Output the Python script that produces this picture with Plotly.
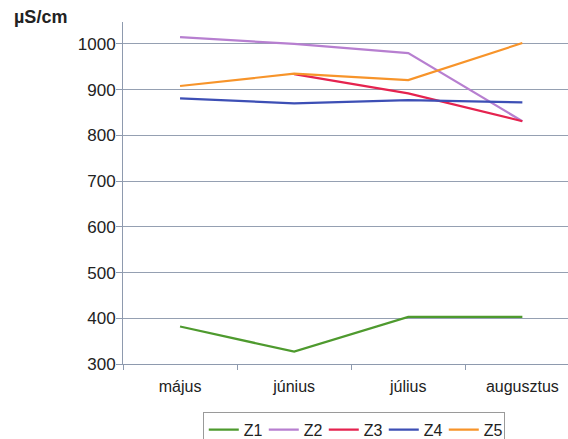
import plotly.graph_objects as go

months = ["május", "június", "július", "augusztus"]
z1 = [382, 327, 403, 403]
z2 = [1015, 1000, 980, 831]
z3 = [None, 934, 892, 831]
z4 = [881, 870, 877, 872]
z5 = [908, 935, 921, 1002]

series = [
    ("Z1", z1, "#4e9a2e"),
    ("Z2", z2, "#b77fd0"),
    ("Z3", z3, "#e5234f"),
    ("Z4", z4, "#3d4fb5"),
    ("Z5", z5, "#f7942a"),
]

axis_col = "#8e9aae"
fig = go.Figure()
for name, vals, col in series:
    fig.add_trace(go.Scatter(x=months, y=vals, name=name, mode="lines",
                             line=dict(color=col, width=2.2)))

fig.update_layout(
    width=568, height=439,
    margin=dict(l=123, r=0, t=22, b=75),
    paper_bgcolor="white", plot_bgcolor="white",
    font=dict(family="Liberation Sans, Arial, sans-serif", size=16, color="#222"),
    showlegend=True,
    legend=dict(orientation="h", x=0.357, y=0.062, xref="container", yref="container",
                xanchor="left", yanchor="top",
                bordercolor="#9a9a9a", borderwidth=1, font=dict(size=16),
                itemwidth=30, entrywidth=15, tracegroupgap=0),
    annotations=[dict(text="<b>µS/cm</b>", xref="paper", yref="paper",
                      x=-0.25, y=1.015, xanchor="left", yanchor="middle",
                      showarrow=False, font=dict(size=18, color="#222"))],
)
fig.update_xaxes(range=[-0.5, 3.40], showline=True, linecolor=axis_col, linewidth=1,
                 ticks="outside", tickson="boundaries", ticklen=5, tickcolor=axis_col,
                 showgrid=False, zeroline=False, fixedrange=True,
                 ticklabelstandoff=8, tickfont=dict(size=16))
fig.update_yaxes(range=[300, 1048], tickvals=[300, 400, 500, 600, 700, 800, 900, 1000],
                 showline=True, linecolor=axis_col, linewidth=1,
                 ticks="outside", ticklen=6, tickcolor=axis_col,
                 showgrid=True, gridcolor="#95a0b2", gridwidth=1, zeroline=False,
                 ticklabelstandoff=-3, tickfont=dict(size=17))

fig.write_html("out.html")
